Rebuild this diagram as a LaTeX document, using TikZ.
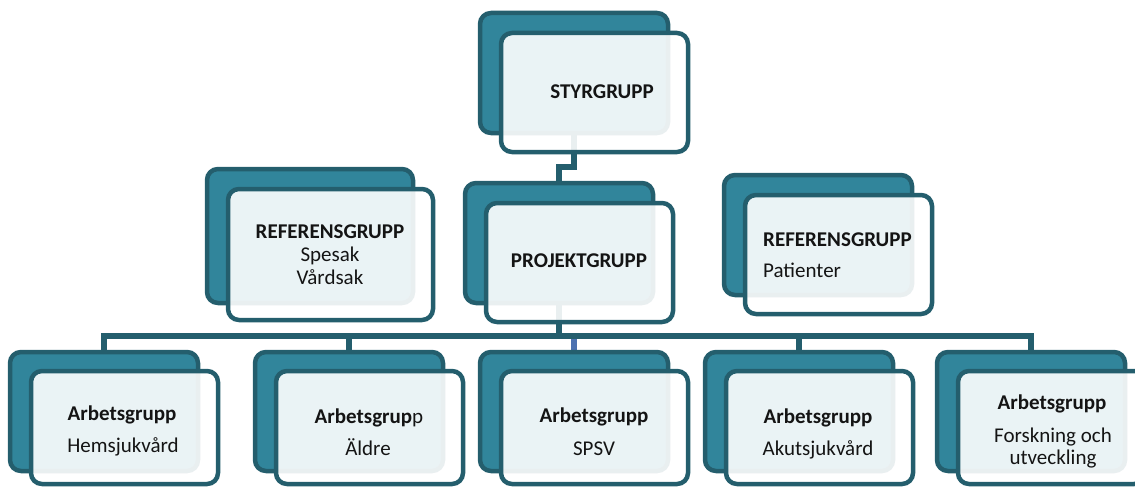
\documentclass[tikz,border=0pt]{standalone}
\usepackage{fontspec}
\setmainfont{Carlito}
\pgfdeclarelayer{bg}
\pgfsetlayers{bg,main}
\definecolor{tl}{RGB}{49,133,155}
\definecolor{bd}{RGB}{36,94,109}
\definecolor{bl}{RGB}{76,114,176}
\definecolor{tx}{RGB}{20,20,20}
\begin{document}
\begin{tikzpicture}[x=1pt,y=-1pt,
 back/.style={draw=bd, fill=tl, line width=4.5pt, rounded corners=11pt, inner sep=0pt, outer sep=0pt, anchor=north west, minimum width=188pt, minimum height=120pt},
 front/.style={draw=bd, fill=white, fill opacity=0.9, line width=4.5pt, rounded corners=11pt, inner sep=0pt, outer sep=0pt, anchor=north west, minimum width=187pt, minimum height=119pt},
 conn/.style={draw=bd, line width=5.2pt},
 hd/.style={anchor=base, text=tx, font=\fontsize{21}{25}\selectfont\bfseries, inner sep=0pt},
 tt/.style={anchor=base, text=tx, font=\fontsize{21}{25}\selectfont, inner sep=0pt}]
\useasboundingbox (0,0) rectangle (1135,487);
\clip (0,0) rectangle (1135,487);
% STYRGRUPP
\node[back] (S) at (480,13) {};
\node[front] (Sf) at (501,33) {};
% REFERENSGRUPP left
\node[back, minimum width=206pt, minimum height=134pt] (RL) at (207,169) {};
\node[front, minimum width=205pt, minimum height=131pt] (RLf) at (228,189) {};
% PROJEKTGRUPP
\node[back] (P) at (465,183) {};
\node[front] (Pf) at (486,203) {};
% REFERENSGRUPP right
\node[back] (RR) at (724,175) {};
\node[front] (RRf) at (745,195) {};
% bottom row
\node[back, minimum height=119pt] (A1) at (10,352) {};
\node[front, minimum height=113pt] (A1f) at (31,371) {};
\node[back, minimum height=119pt] (A2) at (255,352) {};
\node[front, minimum height=113pt] (A2f) at (276,371) {};
\node[back, minimum height=119pt] (A3) at (480,352) {};
\node[front, minimum height=113pt] (A3f) at (501,371) {};
\node[back, minimum height=119pt] (A4) at (705,352) {};
\node[front, minimum height=113pt] (A4f) at (726,371) {};
\node[back, minimum height=119pt] (A5) at (937,352) {};
\node[front, minimum height=113pt] (A5f) at (958,371) {};
% texts
\node[hd] (tS) at (602,98) {STYRGRUPP};
\node[hd] (tRL1) at (330,238) {REFERENSGRUPP};
\node[tt] (tRL2) at (330,261) {Spesak};
\node[tt] (tRL3) at (330,284) {Vårdsak};
\node[hd] (tP) at (579,267) {PROJEKTGRUPP};
\node[hd, anchor=base west] (tRR1) at (763,246) {REFERENSGRUPP};
\node[tt, anchor=base west] (tRR2) at (763,277) {Patienter};
\node[hd] (tA1a) at (122,420) {Arbetsgrupp};
\node[tt] (tA1b) at (123,452) {Hemsjukvård};
\node[tt] (tA2a) at (369,423) {{\bfseries Arbetsgrup}p};
\node[tt] (tA2b) at (368,455) {Äldre};
\node[hd] (tA3a) at (594,422) {Arbetsgrupp};
\node[tt] (tA3b) at (594,455) {SPSV};
\node[hd] (tA4a) at (818,423) {Arbetsgrupp};
\node[tt] (tA4b) at (818,455) {Akutsjukvård};
\node[hd] (tA5a) at (1052,409) {Arbetsgrupp};
\node[tt] (tA5b) at (1053,442) {Forskning och};
\node[tt] (tA5c) at (1053,464) {utveckling};
% connectors
\coordinate (bus) at (559,336);
\begin{pgfonlayer}{bg}
\draw[conn] (S.south) -- ([yshift=-34pt]S.south) -| (P.north);
\draw[conn, draw=bl] (A3.north) -- (A3.north |- bus);
\draw[conn] (P.south) -- (bus);
\draw[conn] (A1.north) |- (bus) -| (A5.north);
\draw[conn] (A2.north) -- (A2.north |- bus);
\draw[conn] (A4.north) -- (A4.north |- bus);
\end{pgfonlayer}
\end{tikzpicture}
\end{document}
